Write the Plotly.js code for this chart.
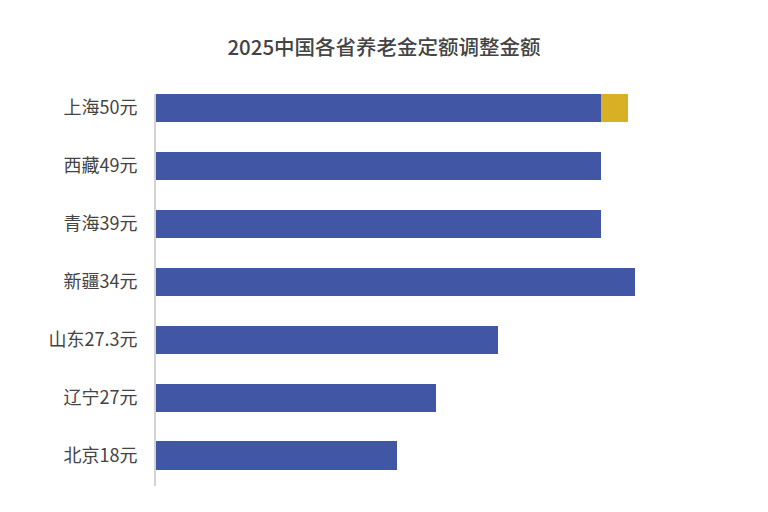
<!DOCTYPE html>
<html>
<head>
<meta charset="utf-8">
<script src="https://cdn.plot.ly/plotly-3.0.1.min.js"></script>
<style>html,body{margin:0;padding:0;background:#fff;}#chart{width:768px;height:512px;}</style>
</head>
<body>
<div id="chart"></div>
<script>
const categories = ["上海50元", "西藏49元", "青海39元", "新疆34元", "山东27.3元", "辽宁27元", "北京18元"];
const baseValues = [44.5, 44.5, 44.5, 47.9, 34.2, 28.0, 24.1];
const extraValues = [2.7, 0, 0, 0, 0, 0, 0];

const traces = [
  {
    type: "bar", orientation: "h", y: categories, x: baseValues,
    marker: {color: "#4157a5", line: {width: 0}}, width: 0.484,
    hoverinfo: "none", showlegend: false
  },
  {
    type: "bar", orientation: "h", y: categories, x: extraValues,
    marker: {color: "#d8b024", line: {width: 0}}, width: 0.484,
    hoverinfo: "none", showlegend: false
  }
];

const layout = {
  width: 768, height: 512,
  barmode: "stack",
  paper_bgcolor: "#ffffff", plot_bgcolor: "#ffffff",
  margin: {l: 156, r: 112, t: 94, b: 26},
  title: {
    text: "2025中国各省养老金定额调整金额",
    font: {family: "Noto Sans CJK SC, sans-serif", size: 20.5, color: "#444444", weight: 500},
    x: 0.5, xanchor: "center", y: 0.906, yanchor: "middle", yref: "container"
  },
  xaxis: {range: [0, 50], visible: false, showgrid: false, zeroline: false, fixedrange: true},
  yaxis: {
    type: "category", categoryorder: "array", categoryarray: categories,
    range: [6.527, -0.242],
    showline: true, linecolor: "#d3d3d3", linewidth: 2,
    showgrid: false, zeroline: false, ticks: "",
    ticklabelstandoff: 13,
    tickfont: {family: "Noto Sans CJK SC, sans-serif", size: 18, color: "#444444"}
  },
  font: {family: "Noto Sans CJK SC, sans-serif"}
};

Plotly.newPlot("chart", traces, layout, {displayModeBar: false, staticPlot: true});
</script>
</body>
</html>
